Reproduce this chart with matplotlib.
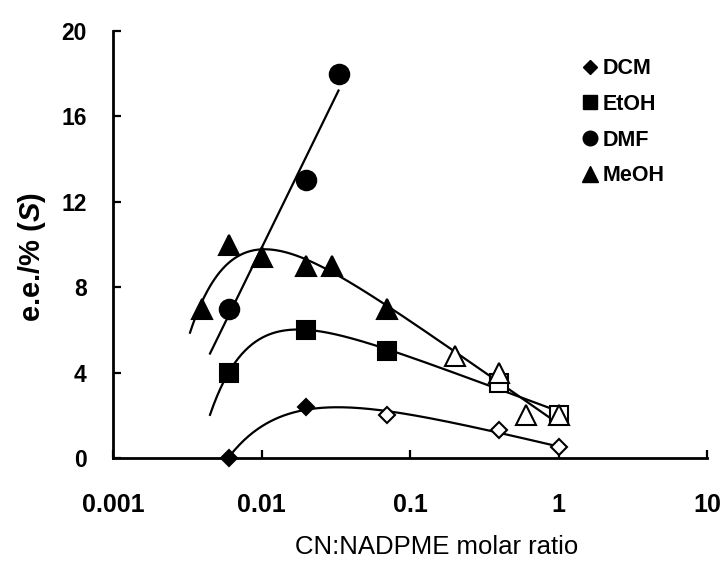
import numpy as np
import matplotlib
matplotlib.use("Agg")
import matplotlib.pyplot as plt
from matplotlib.lines import Line2D

plt.rcParams['font.family'] = ['Liberation Sans', 'DejaVu Sans']
plt.rcParams['mathtext.fontset'] = 'custom'
plt.rcParams['mathtext.it'] = 'Liberation Sans:italic:bold'
plt.rcParams['mathtext.rm'] = 'Liberation Sans:bold'

# CN:NADPME molar ratio and e.e. values per solvent (open symbols flagged False)
dcm_x = [0.006, 0.02, 0.07, 0.4, 1.0]
dcm_y = [0.0, 2.4, 2.0, 1.3, 0.5]
dcm_filled = [True, True, False, False, False]

etoh_x = [0.006, 0.02, 0.07, 0.4, 1.0]
etoh_y = [4.0, 6.0, 5.0, 3.5, 2.0]
etoh_filled = [True, True, True, False, False]

dmf_x = [0.006, 0.02, 0.033]
dmf_y = [7.0, 13.0, 18.0]
dmf_filled = [True, True, True]

meoh_x = [0.004, 0.006, 0.01, 0.02, 0.03, 0.07, 0.2, 0.4, 0.6, 1.0]
meoh_y = [7.0, 10.0, 9.4, 9.0, 9.0, 7.0, 4.8, 4.0, 2.0, 2.0]
meoh_filled = [True, True, True, True, True, True, False, False, False, False]

# Trend curves: y = a + b*log10(x) - c*x**(-p), least squares on (a, b, c).
# p = None gives a plain logarithmic trendline. Tuple: (x start, x end, p)
dcm_fit = (0.006, 1.0, 1.1)
etoh_fit = (0.0045, 1.0, 1.6)
dmf_fit = (0.0045, 0.033, None)
meoh_fit = (0.0033, 1.0, 1.45)


def design(x, p):
    x = np.asarray(x, dtype=float)
    cols = [np.ones_like(x), np.log10(x)]
    if p is not None:
        cols.append(-x ** (-p))
    return np.column_stack(cols)


def trend(xs, ys, x0, x1, p):
    coef, *_ = np.linalg.lstsq(design(xs, p), np.asarray(ys, float), rcond=None)
    xx = np.logspace(np.log10(x0), np.log10(x1), 300)
    return xx, design(xx, p) @ coef


fig = plt.figure(figsize=(7.23, 5.61), dpi=100)
ax = fig.add_axes([0.1563, 0.1836, 0.8216, 0.7611])

series = [
    ("DCM", "D", 8.6, 7.2, dcm_x, dcm_y, dcm_filled, dcm_fit),
    ("EtOH", "s", 12.5, 10, etoh_x, etoh_y, etoh_filled, etoh_fit),
    ("DMF", "o", 14, 10.5, dmf_x, dmf_y, dmf_filled, dmf_fit),
    ("MeOH", "^", 14.5, 11, meoh_x, meoh_y, meoh_filled, meoh_fit),
]

for name, mk, ms, _, xs, ys, filled, (x0, x1, p) in series:
    xx, yy = trend(xs, ys, x0, x1, p)
    ax.plot(xx, yy, color='black', lw=1.6, zorder=2)
    for xv, yv, f in zip(xs, ys, filled):
        ax.plot([xv], [yv], marker=mk, ms=ms, ls='none',
                mfc='black' if f else 'white', mec='black', mew=1.5,
                zorder=3, clip_on=False)

ax.set_xscale('log')
ax.set_xlim(0.001, 10)
ax.set_ylim(0, 20)
ax.set_yticks([0, 4, 8, 12, 16, 20])
ax.set_xticks([0.001, 0.01, 0.1, 1, 10])
ax.set_xticklabels(['0.001', '0.01', '0.1', '1', '10'])
ax.xaxis.set_minor_locator(matplotlib.ticker.NullLocator())

for s in ['top', 'right']:
    ax.spines[s].set_visible(False)
for s in ['left', 'bottom']:
    ax.spines[s].set_linewidth(2.0)

ax.tick_params(direction='in', length=6, width=1.6)
ax.tick_params(axis='x', pad=25, labelsize=18)
ax.tick_params(axis='y', pad=19, labelsize=16.5)
for lab in ax.get_xticklabels() + ax.get_yticklabels():
    lab.set_fontweight('bold')

ax.set_xlabel('CN:NADPME molar ratio', fontsize=18.5)
ax.xaxis.set_label_coords(0.545, -0.181)
ax.set_ylabel(r'e.e./% ($S$)', fontsize=21, fontweight='bold')
ax.yaxis.set_label_coords(-0.11, 0.471)

handles = [Line2D([], [], marker=m, ls='none', color='black', ms=lms)
           for _, m, _, lms, *_ in series]
ax.legend(handles, [s[0] for s in series], loc='upper left',
          bbox_to_anchor=(0.804, 0.896), bbox_transform=fig.transFigure,
          frameon=False, handlelength=0.8, handletextpad=0.2,
          borderpad=0, borderaxespad=0, labelspacing=0.68,
          prop={'weight': 'bold', 'size': 15.5})

fig.savefig('out.png', dpi=100)
